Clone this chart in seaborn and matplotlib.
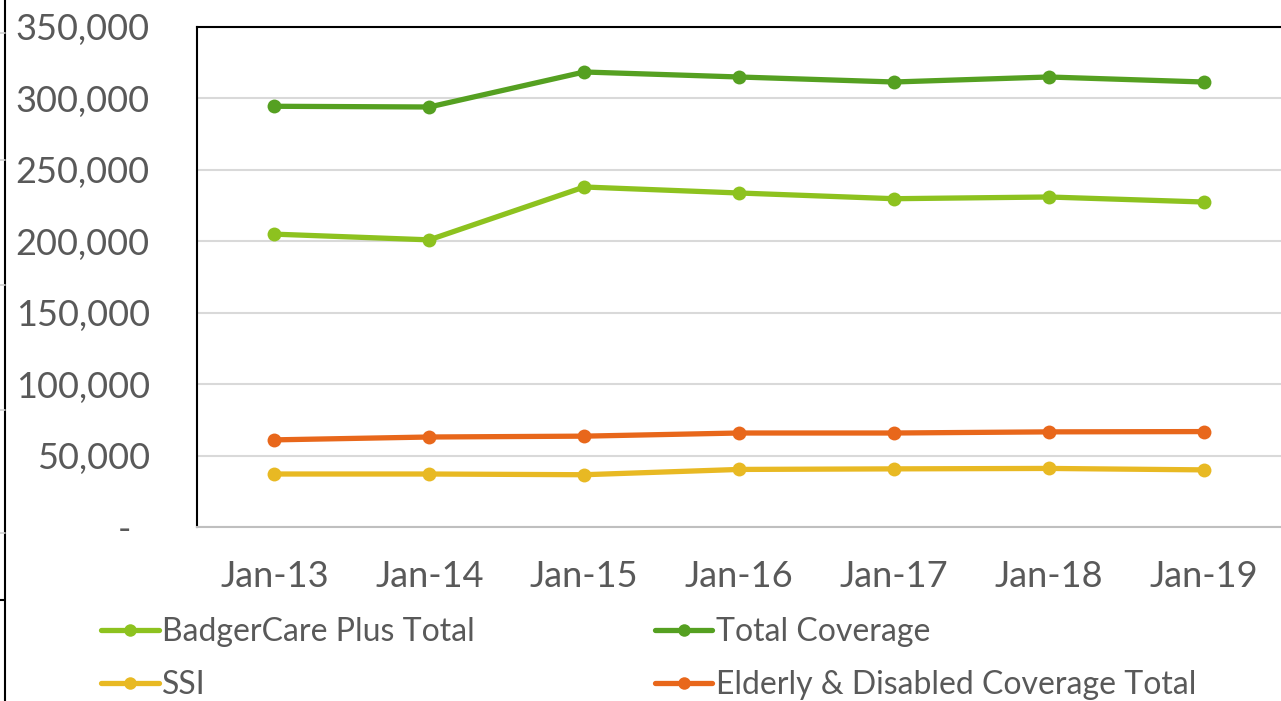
import matplotlib
matplotlib.use("Agg")
import matplotlib.pyplot as plt
from matplotlib.lines import Line2D
from matplotlib.ticker import FuncFormatter, MultipleLocator, FixedLocator
import pandas as pd
import seaborn as sns

# values
months = ["Jan-13", "Jan-14", "Jan-15", "Jan-16", "Jan-17", "Jan-18", "Jan-19"]
badgercare = [205000, 201000, 238000, 233800, 229800, 231000, 227500]
total_cov = [294500, 294000, 318500, 315000, 311500, 315000, 311500]
ssi = [37100, 37100, 36600, 40300, 40700, 41000, 40000]
elderly = [61000, 63000, 63600, 65800, 65800, 66600, 66800]

names = ["BadgerCare Plus Total", "Total Coverage", "SSI",
         "Elderly & Disabled Coverage Total"]
colors = ["#8dc21f", "#55a021", "#e8b923", "#e8671b"]

df = pd.DataFrame({"Month": months * 4,
                   "Enrollment": badgercare + total_cov + ssi + elderly,
                   "Series": [n for n in names for _ in months]})

sns.set_theme(style="white")
plt.rcParams['font.family'] = ['Lato', 'DejaVu Sans']
text_gray = "#595959"

fig, ax = plt.subplots(figsize=(12.81, 7.01), dpi=100)
fig.subplots_adjust(left=0.1538, right=1.0, top=0.9615, bottom=0.2482)

sns.lineplot(data=df, x="Month", y="Enrollment", hue="Series",
             palette=dict(zip(names, colors)), marker="o", markersize=10,
             markeredgewidth=0, linewidth=3.8, sort=False, ax=ax, legend=False)

ax.set_xlim(-0.5, 6.5)
ax.set_ylim(0, 350000)
ax.yaxis.set_major_locator(MultipleLocator(50000))
ax.yaxis.set_major_formatter(FuncFormatter(lambda v, p: "-  " if v == 0 else f"{v:,.0f}"))
ax.set_xlabel("")
ax.set_ylabel("")

ax.xaxis.set_minor_locator(FixedLocator([i - 0.5 for i in range(8)]))
ax.tick_params(axis="x", which="major", length=0, pad=24, labelsize=26, labelcolor=text_gray)
ax.tick_params(axis="x", which="minor", length=7.5, width=1.5, color="#bfbfbf", direction="out")
ax.tick_params(axis="y", length=0, pad=34, labelsize=26, labelcolor=text_gray)

ax.yaxis.grid(True, color="#d9d9d9", linewidth=1.5)
ax.set_axisbelow(True)

for s in ["left", "top"]:
    ax.spines[s].set_color("black")
    ax.spines[s].set_linewidth(1.5)
ax.spines["right"].set_visible(False)
ax.spines["bottom"].set_color("#bfbfbf")
ax.spines["bottom"].set_linewidth(1.5)

handles = [Line2D([], [], color=c, lw=3.8, marker="o", markersize=9, markeredgewidth=0)
           for c in colors]
order = [0, 2, 1, 3]
fig.legend([handles[i] for i in order], [names[i] for i in order], ncol=2,
           loc="upper left", bbox_to_anchor=(101 / 1281, 1 - 617 / 701),
           frameon=False, fontsize=23, labelcolor=text_gray,
           handlelength=1.8, handletextpad=0.1, columnspacing=5.65,
           labelspacing=0.72, borderpad=0, borderaxespad=0)

# sheet edge left over from the screenshot crop
fig.add_artist(Line2D([5 / 1281, 5 / 1281], [0, 1], color="black", lw=1.5,
                      transform=fig.transFigure))
for yy in [33, 160, 285, 410, 533]:
    fig.add_artist(Line2D([0, 5 / 1281], [1 - yy / 701] * 2, color="#d0d0d0", lw=1.2,
                          transform=fig.transFigure))
fig.add_artist(Line2D([0, 5 / 1281], [1 - 600 / 701] * 2, color="black", lw=1.5,
                      transform=fig.transFigure))

fig.savefig("out.png", dpi=100)
